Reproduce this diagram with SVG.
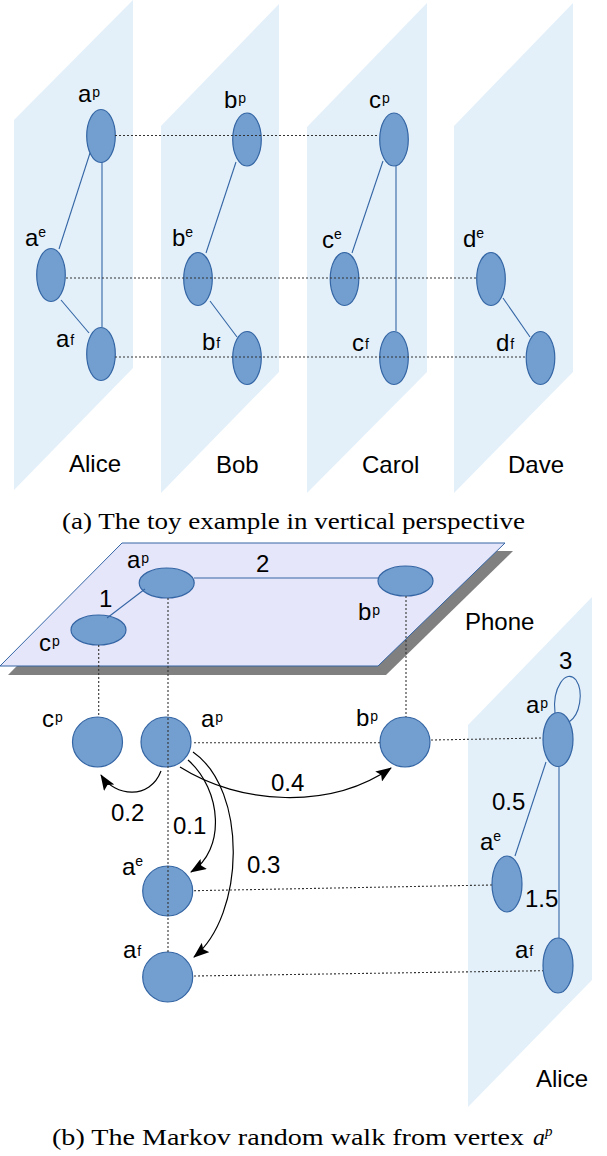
<svg xmlns="http://www.w3.org/2000/svg" width="607" height="1156" viewBox="0 0 607 1156">
<style>
.plane{fill:#e3f0fa;stroke:none}
.phone{fill:#e6e6fa;stroke:#3465a4;stroke-width:1}
.shadow{fill:#808080;stroke:none}
.node{fill:#729fcf;stroke:#3465a4;stroke-width:1.2}
.edge{stroke:#3465a4;stroke-width:1.1;fill:none}
.dot{stroke:#333;stroke-width:1.1;stroke-dasharray:2,2;fill:none}
.arr{stroke:#000;stroke-width:1.2;fill:none;marker-end:url(#ah)}
.lbl{font-family:"Liberation Sans",Arial,sans-serif;font-size:24px;fill:#000}
.sup{font-size:14px}
.cap{font-family:"Liberation Serif","Times New Roman",serif;font-size:24px;fill:#000}
</style>
<defs>
<marker id="ah" markerWidth="16" markerHeight="12" refX="15" refY="6" orient="auto" markerUnits="userSpaceOnUse">
<path d="M0,0 L16,6 L0,12 L3,6 z" fill="#000"/>
</marker>
</defs>
<rect width="607" height="1156" fill="#fff"/>

<!-- (a) planes -->
<g id="planes-a">
<polygon class="plane" points="14,120 133,0 133,368 14,490"/>
<polygon class="plane" points="161,126 279,4 279,372 161,493"/>
<polygon class="plane" points="307,127 427,3 427,372 307,493"/>
<polygon class="plane" points="454,126 573,3 573,372 454,493"/>
</g>
<g id="plane-names-a">
<text class="lbl" x="69" y="472">Alice</text>
<text class="lbl" x="216" y="473">Bob</text>
<text class="lbl" x="362" y="473">Carol</text>
<text class="lbl" x="508" y="473">Dave</text>
</g>

<!-- (a) nodes -->
<g id="a-ap"><ellipse class="node" cx="101" cy="136" rx="14.3" ry="26.5"/><text class="lbl" x="78" y="102">a<tspan class="sup" dx="1" dy="-5">p</tspan></text></g>
<g id="a-bp"><ellipse class="node" cx="247" cy="139.5" rx="14.3" ry="26.5"/><text class="lbl" x="224" y="108">b<tspan class="sup" dx="1" dy="-5">p</tspan></text></g>
<g id="a-cp"><ellipse class="node" cx="394" cy="139.5" rx="14.3" ry="26.5"/><text class="lbl" x="369" y="108">c<tspan class="sup" dx="1" dy="-5">p</tspan></text></g>
<g id="a-ae"><ellipse class="node" cx="51" cy="275" rx="14.3" ry="26.5"/><text class="lbl" x="25" y="246">a<tspan class="sup" dx="0" dy="-9">e</tspan></text></g>
<g id="a-be"><ellipse class="node" cx="198" cy="279" rx="14.3" ry="26.5"/><text class="lbl" x="172" y="246">b<tspan class="sup" dx="0" dy="-9">e</tspan></text></g>
<g id="a-ce"><ellipse class="node" cx="344.5" cy="279" rx="14.3" ry="26.5"/><text class="lbl" x="322" y="248">c<tspan class="sup" dx="0" dy="-9">e</tspan></text></g>
<g id="a-de"><ellipse class="node" cx="491" cy="279" rx="14.3" ry="26.5"/><text class="lbl" x="463" y="247">d<tspan class="sup" dx="0" dy="-9">e</tspan></text></g>
<g id="a-af"><ellipse class="node" cx="101" cy="354" rx="14.3" ry="26.5"/><text class="lbl" x="56" y="347">a<tspan class="sup" dx="1" dy="-2">f</tspan></text></g>
<g id="a-bf"><ellipse class="node" cx="247" cy="358" rx="14.3" ry="26.5"/><text class="lbl" x="202" y="350">b<tspan class="sup" dx="1" dy="-2">f</tspan></text></g>
<g id="a-cf"><ellipse class="node" cx="394" cy="358" rx="14.3" ry="26.5"/><text class="lbl" x="352" y="351">c<tspan class="sup" dx="1" dy="-2">f</tspan></text></g>
<g id="a-df"><ellipse class="node" cx="540.5" cy="358" rx="14.3" ry="26.5"/><text class="lbl" x="496" y="351">d<tspan class="sup" dx="1" dy="-2">f</tspan></text></g>

<!-- (a) connectors -->
<g id="connectors-a">
<line class="edge" x1="90" y1="153" x2="59" y2="249"/>
<line class="edge" x1="102" y1="162" x2="102" y2="327"/>
<line class="edge" x1="61" y1="300" x2="89" y2="333"/>
<line class="edge" x1="236" y1="162" x2="206" y2="253"/>
<line class="edge" x1="210" y1="301" x2="237" y2="337"/>
<line class="edge" x1="383" y1="161" x2="352" y2="253"/>
<line class="edge" x1="396" y1="166" x2="396" y2="331"/>
<line class="edge" x1="503" y1="298" x2="530" y2="337"/>
<line class="dot" x1="115" y1="135.5" x2="379" y2="135.5"/>
<line class="dot" x1="66" y1="278" x2="477" y2="278"/>
<line class="dot" x1="115" y1="357" x2="526" y2="357"/>
</g>

<text class="cap" x="62" y="529" textLength="463" lengthAdjust="spacingAndGlyphs">(a) The toy example in vertical perspective</text>

<!-- (b) phone plane -->
<g id="phone-plane">
<polygon class="shadow" points="130,551 513,551 386,675 8,675"/>
<polygon class="phone" points="122,543 505,543 378,666 0,666"/>
<text class="lbl" x="465" y="630">Phone</text>
<text class="lbl" x="256" y="572">2</text>
<text class="lbl" x="99" y="607">1</text>
</g>
<!-- (b) Alice plane -->
<g id="alice-plane-b">
<polygon class="plane" points="468,725 592,597 592,980 468,1107"/>
<text class="lbl" x="536" y="1087">Alice</text>
</g>

<!-- phone nodes -->
<g id="ph-ap"><ellipse class="node" cx="166.7" cy="583" rx="27.5" ry="15"/><text class="lbl" x="127" y="568">a<tspan class="sup" dx="1" dy="-5">p</tspan></text></g>
<g id="ph-cp"><ellipse class="node" cx="98.5" cy="630" rx="27.5" ry="15"/><text class="lbl" x="39" y="651">c<tspan class="sup" dx="1" dy="-5">p</tspan></text></g>
<g id="ph-bp"><ellipse class="node" cx="405.5" cy="581" rx="27.5" ry="15"/><text class="lbl" x="358" y="620">b<tspan class="sup" dx="1" dy="-5">p</tspan></text></g>

<!-- walk nodes -->
<g id="w-cp"><circle class="node" cx="97.5" cy="742" r="25"/><text class="lbl" x="42" y="727">c<tspan class="sup" dx="1" dy="-5">p</tspan></text></g>
<g id="w-ap"><circle class="node" cx="166" cy="742" r="25"/><text class="lbl" x="201" y="727">a<tspan class="sup" dx="1" dy="-5">p</tspan></text></g>
<g id="w-bp"><circle class="node" cx="405" cy="742" r="25"/><text class="lbl" x="356" y="726">b<tspan class="sup" dx="1" dy="-5">p</tspan></text></g>
<g id="w-ae"><circle class="node" cx="167.7" cy="891" r="25"/><text class="lbl" x="122" y="875">a<tspan class="sup" dx="0" dy="-9">e</tspan></text></g>
<g id="w-af"><circle class="node" cx="167.7" cy="977" r="25"/><text class="lbl" x="123" y="958">a<tspan class="sup" dx="1" dy="-2">f</tspan></text></g>

<!-- Alice (b) nodes -->
<g id="al-ap"><ellipse class="node" cx="558" cy="739.5" rx="15" ry="27"/><text class="lbl" x="526" y="713">a<tspan class="sup" dx="1" dy="-5">p</tspan></text></g>
<g id="al-ae"><ellipse class="node" cx="507" cy="884" rx="15" ry="28"/><text class="lbl" x="480" y="850">a<tspan class="sup" dx="0" dy="-9">e</tspan></text></g>
<g id="al-af"><ellipse class="node" cx="558" cy="965.5" rx="15" ry="27.5"/><text class="lbl" x="515" y="958">a<tspan class="sup" dx="1" dy="-2">f</tspan></text></g>

<!-- (b) connectors -->
<g id="connectors-b">
<line class="edge" x1="145" y1="589" x2="107" y2="618"/>
<line class="edge" x1="194" y1="578" x2="378" y2="578"/>
<line class="dot" x1="98.7" y1="645" x2="98.7" y2="717"/>
<line class="dot" x1="168" y1="598" x2="168" y2="952"/>
<line class="dot" x1="406" y1="596" x2="406" y2="717"/>
<line class="dot" x1="194" y1="742.7" x2="380" y2="742.7"/>
<line class="dot" x1="431" y1="740" x2="543" y2="738"/>
<line class="dot" x1="194" y1="890.7" x2="492" y2="885"/>
<line class="dot" x1="194" y1="976" x2="543" y2="970.7"/>
<line class="edge" x1="546" y1="762" x2="515" y2="856"/>
<line class="edge" x1="559" y1="767" x2="559" y2="938"/>
<path class="edge" d="M555,713 C552,688 566,668 576,680 C584,692 580,715 569,722"/>
<path class="arr" d="M161,771 C150,800 115,797 101,775"/>
<path class="arr" d="M188,760 C222,790 226,850 191,872"/>
<path class="arr" d="M193,752 C248,790 245,915 194,957"/>
<path class="arr" d="M180,767 C240,805 330,810 391,768"/>
</g>
<g id="weights-b">
<text class="lbl" x="111" y="821">0.2</text>
<text class="lbl" x="173" y="834">0.1</text>
<text class="lbl" x="247" y="873">0.3</text>
<text class="lbl" x="271" y="791">0.4</text>
<text class="lbl" x="559" y="669">3</text>
<text class="lbl" x="492" y="810">0.5</text>
<text class="lbl" x="525" y="907">1.5</text>
</g>

<text class="cap" x="52" y="1145"><tspan textLength="472" lengthAdjust="spacingAndGlyphs">(b) The Markov random walk from vertex</tspan><tspan x="533" font-style="italic">a</tspan><tspan font-style="italic" font-size="15" dy="-9">p</tspan></text>
</svg>
